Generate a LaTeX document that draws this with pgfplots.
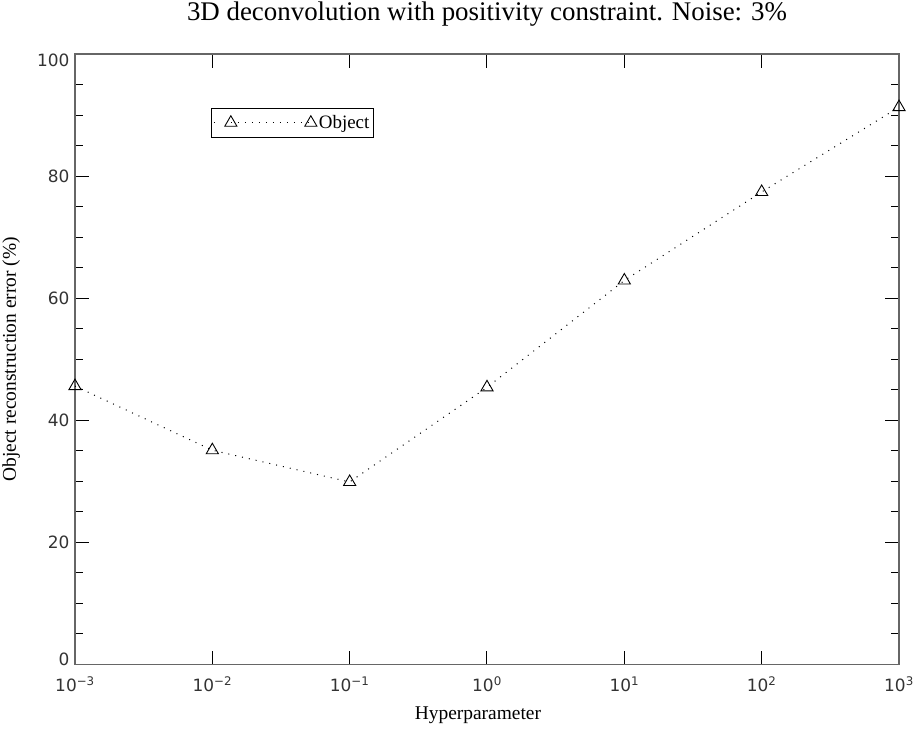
\documentclass[border=0pt]{standalone}
\usepackage{fontspec}
\setmainfont{Liberation Serif}
\newfontfamily\ticksf{DejaVu Sans}
\usepackage{pgfplots}
\pgfplotsset{compat=1.18}
\begin{document}
\begin{tikzpicture}
\useasboundingbox (0,0) rectangle (918bp,731bp);
\begin{axis}[
  at={(75bp,66.5bp)}, anchor=south west,
  scale only axis, width=824bp, height=610.5bp,
  xmode=log, log basis x=10,
  xmin=1e-3, xmax=1e3, ymin=0, ymax=100,
  xtick={1e-3,1e-2,1e-1,1,10,100,1000},
  xticklabels={10\textsuperscript{−3},10\textsuperscript{−2},10\textsuperscript{−1},10\textsuperscript{0},10\textsuperscript{1},10\textsuperscript{2},10\textsuperscript{3}},
  xminorticks=false,
  ytick={0,20,40,60,80,100},
  yticklabels={\raisebox{5bp}[\height][\depth]{0},20,40,60,80,\raisebox{-6.5bp}[\height][\depth]{100}},
  minor ytick={5,10,15,25,30,35,45,50,55,65,70,75,85,90,95},
  major tick length=14bp, minor tick length=8bp,
  tick align=inside,
  axis line style={black!60, line width=1.5bp},
  tick style={black, line width=1bp},
  ticklabel style={font=\ticksf\fontsize{17}{17}\selectfont, text=black!80},
  /pgf/number format/assume math mode=true,
  xticklabel style={anchor=base, yshift=-27bp},
  yticklabel style={anchor=east, xshift=-2bp},
  title={3D deconvolution with positivity constraint. Noise: 3\%},
  title style={font=\fontsize{27}{27}\selectfont, at={(axis description cs:0.5,1)}, anchor=base, yshift=28bp},
  xlabel={Hyperparameter},
  xlabel style={font=\fontsize{19.5}{19.5}\selectfont, at={(axis description cs:0.489,0)}, anchor=base, yshift=-54.5bp},
  ylabel={Object reconstruction error (\%)},
  ylabel style={font=\fontsize{19.5}{19.5}\selectfont, at={(axis description cs:-0.0716,0.5)}, anchor=base, rotate=0},
  legend style={at={(0.165,0.9115)}, anchor=north west, draw=black, line width=0.8bp,
    font=\fontsize{19}{19}\selectfont, inner xsep=2bp, inner ysep=5bp},
  legend cell align=left,
  legend image code/.code={\path (0bp,0bp) -- (1bp,0bp); \draw[#1] plot coordinates {(17bp,0bp) (97bp,0bp)};},
]
\addplot[black, line width=1bp, dash pattern=on 1bp off 6bp,
  mark=triangle, mark size=7bp, mark options={solid, line width=0.9bp}]
  coordinates {(1e-3,45.6) (1e-2,35.1) (1e-1,29.9) (1,45.4) (10,62.9) (100,77.4) (1000,91.3)};
\addlegendentry{Object}
\end{axis}
\end{tikzpicture}
\end{document}
